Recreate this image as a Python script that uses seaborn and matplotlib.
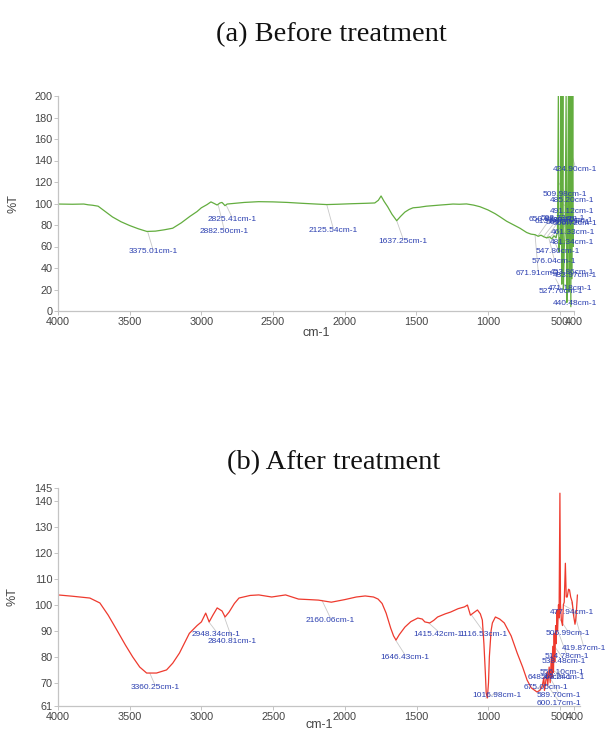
import matplotlib
matplotlib.use("Agg")
import matplotlib.pyplot as plt
import seaborn as sns
import pandas as pd

# ---------------- data: (a) before treatment ----------------
wn_before = [4000, 3900, 3820, 3790, 3760, 3720, 3680, 3620, 3560, 3500, 3440, 3380,
             3320, 3260, 3200, 3140, 3080, 3030, 3000, 2960, 2933, 2910, 2890, 2870,
             2856, 2845, 2835, 2820, 2780, 2700, 2600, 2500, 2400, 2300, 2200, 2125,
             2050, 1950, 1850, 1790, 1765, 1746, 1725, 1700, 1670, 1637, 1610, 1580,
             1550, 1523, 1480, 1430, 1384, 1330, 1290, 1244, 1200, 1150, 1100, 1056,
             1000, 950, 916, 870, 820, 777, 730, 700, 672, 650, 630, 610, 590, 570,
             555, 540, 525, 515, 509, 505, 500, 494, 490, 486, 482, 478, 474, 468,
             462, 455, 450, 445, 439, 434, 430, 427, 422, 418, 414, 409, 405, 400]
t_before = [99.5, 99.3, 99.5, 98.8, 98.4, 97.5, 93.5, 87.5, 83, 79.5, 76.5, 74,
            74.3, 75.5, 77, 82, 88, 92.5, 96, 99, 101.5, 100, 98.6, 100.5,
            101, 99.5, 98, 99.5, 100, 101, 101.7, 101.5, 101, 100.2, 99.5, 99,
            99.3, 99.8, 100.2, 100.5, 103, 107, 102, 97, 90, 84, 88, 92,
            94.5, 96, 96.5, 97.5, 98, 98.6, 99, 99.5, 99.3, 99.6, 98.5, 97,
            94, 90.5, 87.6, 83.5, 80, 77, 73, 71.5, 71, 69.5, 70.5, 69, 68, 69,
            67, 70, 68, 74, 205, 55, 68, 62, 205, 25, 66, 205, 20, 58,
            72, 205, 8, 52, 205, 18, 60, 205, 4, 205, 30, 205, 60, 72]

# peak labels: text, label x, label y, peak x, peak y
lab_before = [
    ("3375.01cm-1", 3337, 55, 3375, 74),
    ("2825.41cm-1", 2785, 85, 2825, 98),
    ("2882.50cm-1", 2841, 74, 2882, 98.6),
    ("2125.54cm-1", 2080, 75, 2125, 99),
    ("1637.25cm-1", 1592, 65, 1637, 84),
    ("424.90cm-1", 391, 132, 425, 150),
    ("509.98cm-1", 461, 108, 510, 120),
    ("485.20cm-1", 412, 103, 485, 110),
    ("491.12cm-1", 412, 93, 491, 100),
    ("650.82cm-1", 560, 85, 651, 70),
    ("613.88cm-1", 520, 83, 614, 69),
    ("592.73cm-1", 480, 86, 593, 68),
    ("565.32cm-1", 445, 82, 565, 69),
    ("533.70cm-1", 420, 84, 534, 69),
    ("500.72cm-1", 395, 81, 501, 68),
    ("461.33cm-1", 410, 73, 461, 72),
    ("481.34cm-1", 412, 64, 481, 66),
    ("547.86cm-1", 510, 55, 548, 68),
    ("576.04cm-1", 538, 46, 576, 68),
    ("671.91cm-1", 650, 35, 672, 71),
    ("453.86cm-1", 412, 36, 454, 40),
    ("433.97cm-1", 395, 33, 434, 30),
    ("471.18cm-1", 426, 21, 471, 25),
    ("527.76cm-1", 489, 18, 528, 30),
    ("440.48cm-1", 391, 7, 440, 10),
]

# ---------------- data: (b) after treatment ----------------
wn_after = [4000, 3900, 3778, 3708, 3650, 3590, 3530, 3479, 3430, 3382, 3313, 3243,
            3200, 3153, 3084, 3030, 3000, 2970, 2946, 2920, 2890, 2856, 2835, 2807,
            2770, 2738, 2660, 2600, 2510, 2413, 2323, 2250, 2184, 2094, 2000, 1920,
            1858, 1800, 1768, 1740, 1712, 1680, 1660, 1643, 1620, 1581, 1540, 1491,
            1460, 1442, 1408, 1380, 1353, 1300, 1262, 1210, 1165, 1145, 1124, 1100,
            1075, 1055, 1041, 1030, 1020, 1014, 1006, 998, 992, 980, 971, 950, 920,
            888, 840, 798, 760, 729, 700, 680, 660, 640, 625, 612, 608, 600, 590,
            585, 575, 568, 560, 556, 550, 545, 540, 536, 530, 526, 520, 516, 510,
            506, 500, 496, 490, 482, 476, 470, 462, 456, 449, 440, 433, 425, 414,
            405, 395, 388, 378]
t_after = [103.8, 103.3, 102.6, 100.7, 96, 90.3, 84.5, 79.9, 76, 73.7, 73.7, 74.9,
           77.5, 81.4, 89, 92, 93.4, 96.8, 93.4, 96, 98.8, 97.6, 95.3, 97.2,
           100.5, 102.6, 103.6, 103.8, 103, 103.8, 102.2, 102, 101.8, 101, 102, 103,
           103.4, 103, 102.2, 100.5, 96.8, 91, 88, 86.4, 88.5, 91.4, 93.5, 94.9,
           94.5, 93.4, 93, 94, 95.3, 96.5, 97.2, 98.5, 99.2, 99.9, 96, 97,
           98, 96.5, 94.1, 85, 73.7, 66, 64.1, 70, 80, 90, 93, 95.3, 94.5,
           93, 88, 81.4, 76, 71, 68, 67.2, 66.4, 67, 68.3, 72, 67, 70, 74,
           69, 76, 70, 80, 72, 84, 74, 89, 78, 92, 85, 98, 90, 100,
           95, 143, 100, 94, 92, 100, 101, 116, 103, 103, 106, 105.7, 103, 101,
           96, 92.5, 95, 103.8]

lab_after = [
    ("3360.25cm-1", 3323, 68, 3360, 73.7),
    ("2948.34cm-1", 2897, 88.7, 2948, 93.4),
    ("2840.81cm-1", 2785, 85.7, 2840, 95.3),
    ("2160.06cm-1", 2101, 94, 2160, 101.8),
    ("1646.43cm-1", 1578, 79.5, 1646, 86.4),
    ("1415.42cm-1", 1348, 88.7, 1415, 93),
    ("1116.53cm-1", 1034, 88.7, 1116, 96),
    ("1016.98cm-1", 936, 65.2, 1017, 64),
    ("477.94cm-1", 419, 97.2, 478, 100),
    ("506.99cm-1", 447, 89, 507, 95),
    ("419.87cm-1", 335, 83, 420, 101),
    ("514.78cm-1", 454, 80, 515, 90),
    ("538.48cm-1", 475, 78, 538, 84),
    ("556.10cm-1", 482, 74, 556, 72),
    ("648.44cm-1", 573, 71.8, 648, 67),
    ("563.24cm-1", 482, 71.8, 563, 75),
    ("675.05cm-1", 601, 68.3, 675, 67.5),
    ("589.70cm-1", 510, 65, 590, 74),
    ("600.17cm-1", 510, 62, 600, 70),
]

ticks_x = [4000, 3500, 3000, 2500, 2000, 1500, 1000, 500, 400]
ticks_y_before = [0, 20, 40, 60, 80, 100, 120, 140, 160, 180, 200]
ticks_y_after = [61, 70, 80, 90, 100, 110, 120, 130, 140, 145]

df_b = pd.DataFrame({"wn": wn_before, "T": t_before})
df_a = pd.DataFrame({"wn": wn_after, "T": t_after})

sns.set_theme(style="white")
plt.rcParams["font.family"] = ["Liberation Sans", "DejaVu Sans"]

fig = plt.figure(figsize=(6.05, 7.32), dpi=100)
ax1 = fig.add_axes([58 / 605, 1 - 311 / 732, (574 - 58) / 605, (311 - 96) / 732])
ax2 = fig.add_axes([58 / 605, 1 - 706 / 732, (580 - 58) / 605, (706 - 488) / 732])

sns.lineplot(data=df_b, x="wn", y="T", sort=False, estimator=None, ax=ax1,
             color="#63ad3f", linewidth=0.9)
sns.lineplot(data=df_a, x="wn", y="T", sort=False, estimator=None, ax=ax2,
             color="#ee3a2e", linewidth=0.9)

ax1.set_xlim(4000, 400)
ax1.set_ylim(0, 200)
ax2.set_xlim(4000, 360)
ax2.set_ylim(61, 145)
ax1.set_yticks(ticks_y_before)
ax2.set_yticks(ticks_y_after)

blue = "#2b3fb0"
for ax, labs in ((ax1, lab_before), (ax2, lab_after)):
    ax.set_xticks(ticks_x)
    for s in ("top", "right"):
        ax.spines[s].set_visible(False)
    for s in ("left", "bottom"):
        ax.spines[s].set_color("#c4c4c4")
        ax.spines[s].set_linewidth(0.9)
    ax.tick_params(axis="both", which="both", length=3, width=0.7, color="#c4c4c4",
                   labelsize=7.8, labelcolor="#444444", pad=1, direction="out",
                   bottom=True, left=True)
    ax.set_xlabel("cm-1", fontsize=9, color="#444444")
    ax.set_ylabel("%T", fontsize=9, color="#444444")
    for txt, lx, ly, px, py in labs:
        ax.plot([lx, px], [ly + 2 if ax is ax1 else ly + 1, py], color="#c8c8c8",
                lw=0.6, zorder=1, clip_on=False)
        ax.text(lx, ly, txt, fontsize=6, color=blue, ha="center", va="center",
                zorder=5, clip_on=False)
    ax.set_facecolor("none")

ax1.yaxis.set_label_coords(-0.075, 0.5)
ax2.yaxis.set_label_coords(-0.075, 0.5)
ax1.xaxis.set_label_coords(0.5, -0.075)
ax2.xaxis.set_label_coords(0.5, -0.06)

fig.text(331 / 605, 1 - 35 / 732, "(a) Before treatment", ha="center", va="center",
         fontsize=20.5, family="Liberation Serif", color="#111111")
fig.text(334 / 605, 1 - 463 / 732, "(b) After treatment", ha="center", va="center",
         fontsize=20.5, family="Liberation Serif", color="#111111")

fig.savefig("out.png", dpi=100)
